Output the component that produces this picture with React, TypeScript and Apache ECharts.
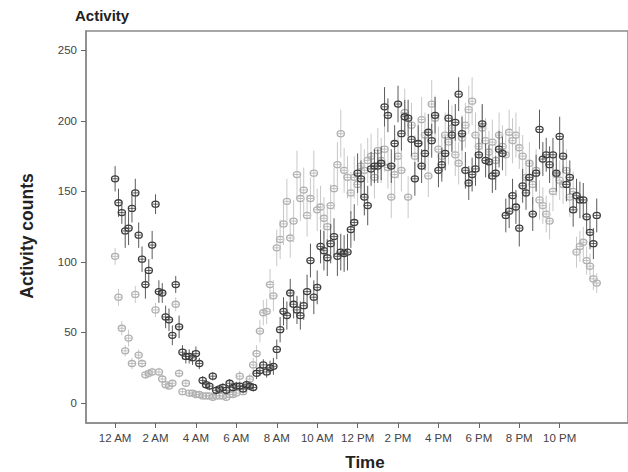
import { useEffect, useRef } from "react";
import * as echarts from "echarts";

// Time of day in hours for tick marks, and their labels
const tickHours = [0, 2, 4, 6, 8, 10, 12, 14, 16, 18, 20, 22];
const tickLabels = ["12 AM", "2 AM", "4 AM", "6 AM", "8 AM", "10 AM", "12 PM", "2 PM", "4 PM", "6 PM", "8 PM", "10 PM"];
const yTicks = [0, 50, 100, 150, 200, 250];
const stepMinutes = 10;

// Dark series (mean activity counts, 10-minute bins)
const darkMean = [
  159, 142, 135, 122, 124, 138, 149, 119, 102, 84,
  94, 112, 141, 79, 78, 61, 59, 48, 84, 54,
  36, 33, 33, 32, 35, 28, 16, 13, 12, 19,
  9, 10, 11, 9, 14, 11, 12, 12, 10, 13,
  12, 11, 21, 23, 27, 22, 25, 26, 38, 52,
  65, 62, 78, 70, 66, 62, 69, 79, 101, 75,
  82, 111, 108, 103, 113, 118, 104, 107, 106, 107,
  123, 128, 163, 159, 146, 140, 166, 168, 168, 170,
  210, 204, 168, 184, 212, 191, 203, 202, 187, 159,
  184, 168, 177, 192, 186, 204, 165, 169, 177, 202,
  190, 199, 219, 191, 165, 156, 162, 166, 176, 198,
  172, 171, 161, 163, 180, 177, 133, 136, 147, 139,
  124, 154, 149, 160, 134, 163, 194, 173, 176, 169,
  176, 163, 189, 175, 155, 160, 137, 147, 144, 144,
  132, 121, 113, 133,
];
const darkErr = [
  9, 10, 8, 12, 12, 10, 10, 9, 9, 10,
  8, 10, 7, 8, 7, 8, 8, 7, 6, 8,
  5, 5, 5, 5, 5, 4, 3, 3, 3, 3,
  3, 3, 3, 3, 3, 3, 3, 3, 3, 3,
  3, 3, 4, 4, 4, 4, 5, 6, 7, 9,
  10, 10, 10, 10, 10, 10, 10, 12, 12, 12,
  12, 12, 14, 13, 14, 13, 14, 13, 13, 13,
  13, 13, 14, 13, 13, 14, 12, 12, 12, 12,
  14, 12, 12, 13, 13, 12, 12, 13, 12, 12,
  13, 12, 12, 13, 12, 13, 12, 12, 12, 13,
  12, 13, 12, 12, 13, 12, 12, 12, 12, 14,
  12, 12, 12, 12, 13, 12, 12, 12, 12, 12,
  13, 12, 12, 12, 12, 13, 14, 12, 12, 13,
  12, 13, 14, 12, 12, 12, 12, 12, 13, 12,
  12, 12, 11, 12,
];

// Light series
const lightMean = [
  104, 75, 53, 37, 46, 28, 77, 34, 28, 20,
  21, 22, 66, 22, 17, 13, 12, 14, 70, 21,
  8, 14, 7, 7, 6, 6, 5, 5, 5, 4,
  5, 5, 5, 4, 6, 6, 7, 19, 8, 12,
  17, 27, 35, 51, 64, 65, 84, 76, 110, 116,
  127, 143, 117, 129, 162, 145, 151, 133, 145, 163,
  137, 139, 131, 125, 140, 152, 169, 191, 165, 160,
  149, 160, 155, 168, 165, 172, 175, 160, 179, 172,
  180, 167, 146, 162, 175, 165, 206, 146, 197, 175,
  184, 201, 190, 161, 212, 202, 180, 175, 190, 185,
  195, 176, 170, 188, 197, 208, 214, 190, 182, 195,
  186, 178, 185, 172, 190, 182, 176, 192, 186, 190,
  181, 175, 160, 170, 155, 165, 144, 140, 134, 129,
  150, 162, 158, 155, 165, 146, 150, 107, 111, 114,
  101, 97, 88, 85,
];
const lightErr = [
  6, 6, 5, 4, 6, 4, 6, 4, 3, 3,
  3, 3, 5, 3, 3, 2, 2, 2, 5, 3,
  2, 2, 2, 2, 2, 2, 2, 2, 2, 2,
  2, 2, 2, 2, 2, 2, 2, 4, 2, 3,
  4, 5, 6, 8, 9, 9, 11, 11, 13, 14,
  15, 16, 14, 15, 17, 16, 16, 15, 15, 16,
  15, 15, 15, 14, 15, 15, 16, 17, 16, 15,
  15, 15, 15, 16, 15, 16, 16, 15, 16, 16,
  16, 15, 15, 15, 16, 15, 17, 15, 16, 15,
  16, 16, 16, 15, 17, 16, 16, 15, 16, 16,
  16, 15, 15, 16, 16, 17, 17, 16, 15, 16,
  16, 15, 16, 15, 16, 15, 15, 16, 16, 16,
  15, 15, 14, 15, 14, 15, 14, 13, 13, 13,
  14, 15, 14, 14, 15, 14, 14, 11, 11, 11,
  10, 9, 8, 7,
];

const FONT = "'Liberation Sans', Arial, sans-serif";

function toData(mean: number[], err: number[]) {
  return mean.map((v, i) => [(i * stepMinutes) / 60, v, err[i]]);
}

function makeRender(stroke: string, barStroke: string) {
  return (_params: any, api: any) => {
    const x = api.value(0);
    const y = api.value(1);
    const e = api.value(2);
    const c = api.coord([x, y]);
    const top = api.coord([x, y + e]);
    const bot = api.coord([x, y - e]);
    return {
      type: "group",
      children: [
        {
          type: "line",
          shape: { x1: c[0], y1: top[1], x2: c[0], y2: bot[1] },
          style: { stroke: barStroke, lineWidth: 1 },
        },
        {
          type: "ellipse",
          shape: { cx: c[0], cy: c[1], rx: 3.6, ry: 3 },
          style: { fill: "rgba(255,255,255,0)", stroke, lineWidth: 1.3 },
        },
        {
          type: "line",
          shape: { x1: c[0] - 3, y1: c[1], x2: c[0] + 3, y2: c[1] },
          style: { stroke, lineWidth: 0.8 },
        },
      ],
    };
  };
}

export default function App() {
  const ref = useRef<HTMLDivElement>(null);
  useEffect(() => {
    if (!ref.current) return;
    const chart = echarts.init(ref.current, null, { renderer: "svg" });
    const axisColor = "#8a8a8a";
    chart.setOption({
      animation: false,
      backgroundColor: "#ffffff",
      grid: {
        left: 86,
        top: 31,
        bottom: 49,
        right: -16,
        show: true,
        borderColor: axisColor,
        borderWidth: 1.5,
        backgroundColor: "transparent",
      },
      xAxis: {
        type: "value",
        min: -1.44,
        max: 25.38,
        splitLine: { show: false },
        axisLine: { show: true, onZero: false, lineStyle: { color: axisColor, width: 1.5 } },
        axisTick: { show: true, length: 5, customValues: tickHours, lineStyle: { color: "#666" } },
        axisLabel: {
          customValues: tickHours,
          formatter: (v: number) => {
            const k = tickHours.indexOf(Math.round(v));
            return k >= 0 ? tickLabels[k] : "";
          },
          color: "#444",
          fontSize: 11.5,
          fontFamily: FONT,
          margin: 9,
        },
      },
      yAxis: {
        type: "value",
        min: -14.2,
        max: 263.8,
        splitLine: { show: false },
        axisLine: { show: true, onZero: false, lineStyle: { color: axisColor, width: 1.5 } },
        axisTick: { show: true, length: 5, customValues: yTicks, lineStyle: { color: "#666" } },
        axisLabel: {
          customValues: yTicks,
          color: "#444",
          fontSize: 11.5,
          fontFamily: FONT,
          margin: 9,
        },
      },
      graphic: [
        {
          type: "text",
          left: 75,
          top: 8,
          style: { text: "Activity", font: `bold 15px ${FONT}`, fill: "#222" },
        },
        {
          type: "text",
          x: 27,
          y: 236,
          rotation: Math.PI / 2,
          style: {
            text: "Activity counts",
            font: `bold 17.5px ${FONT}`,
            fill: "#222",
            textAlign: "center",
            textVerticalAlign: "middle",
          },
        },
        {
          type: "text",
          x: 365,
          y: 462,
          style: {
            text: "Time",
            font: `bold 17px ${FONT}`,
            fill: "#222",
            textAlign: "center",
            textVerticalAlign: "middle",
          },
        },
      ],
      series: [
        {
          type: "custom",
          name: "light",
          renderItem: makeRender("#b0b0b0", "#c8c8c8"),
          data: toData(lightMean, lightErr),
          encode: { x: 0, y: 1 },
          z: 1,
        },
        {
          type: "custom",
          name: "dark",
          renderItem: makeRender("#3c3c3c", "#5a5a5a"),
          data: toData(darkMean, darkErr),
          encode: { x: 0, y: 1 },
          z: 2,
        },
      ],
    });
    return () => chart.dispose();
  }, []);
  return (
    <div
      ref={ref}
      style={{ position: "fixed", left: 0, top: 0, width: 628, height: 472 }}
    />
  );
}
